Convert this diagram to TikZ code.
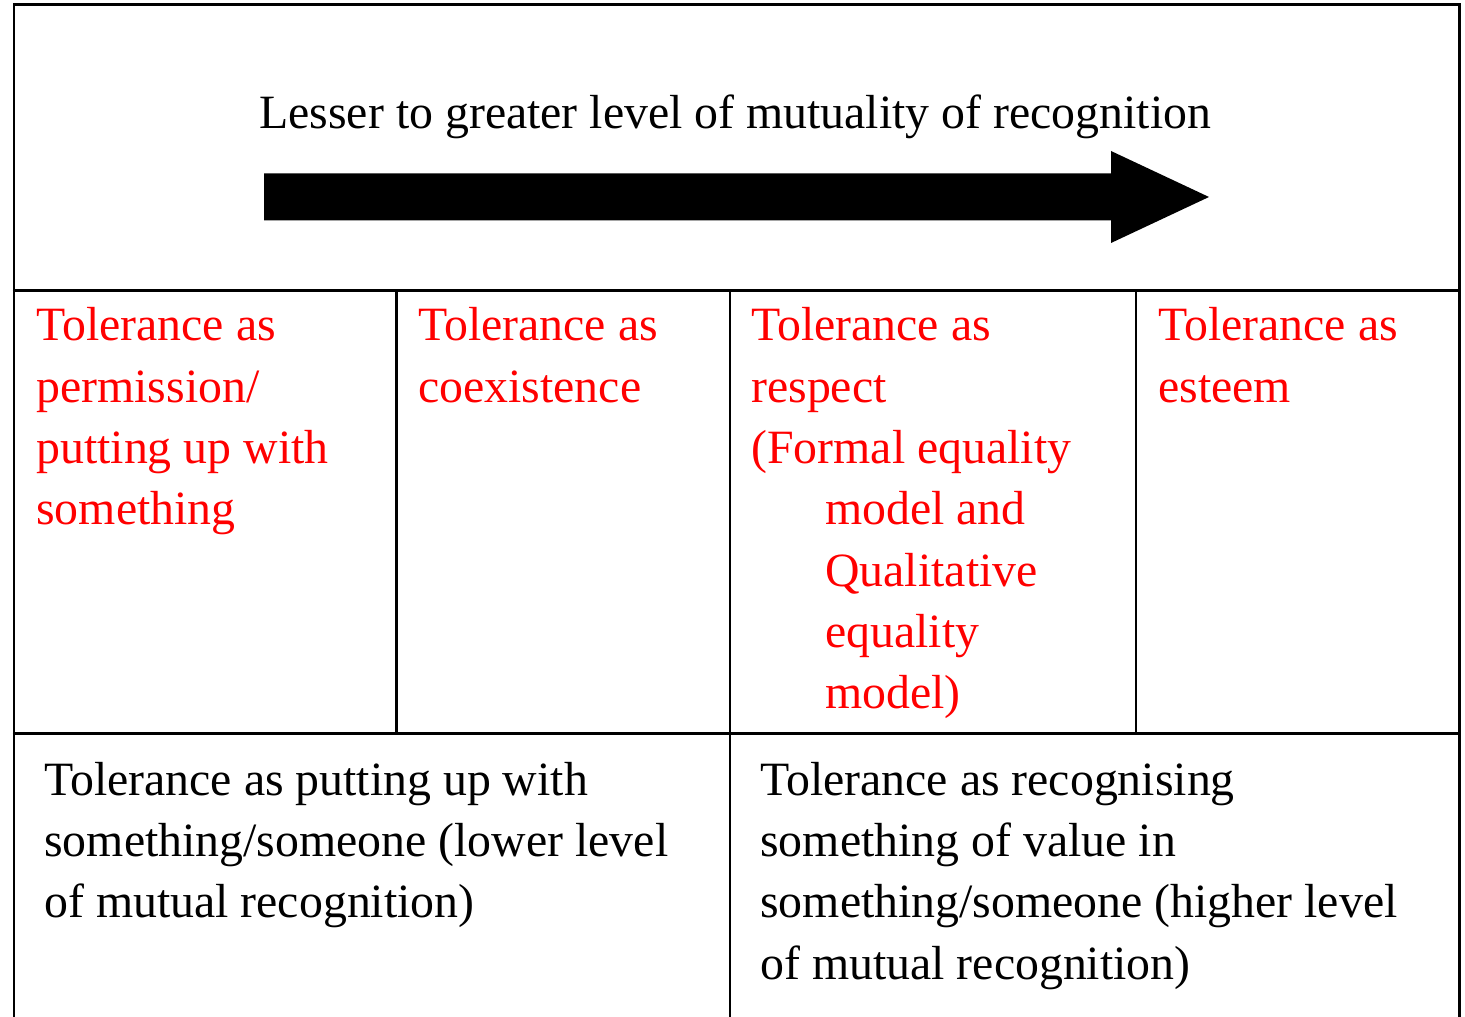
\documentclass[tikz,border=0pt]{standalone}
\usepackage{fontspec}
\setmainfont{Liberation Serif}
\usepackage{xcolor}
\usepackage{tkz-euclide}
\usetikzlibrary{calc}

\newcommand{\respindent}{\hspace*{1.48cm}}
\tikzset{
    celltext/.style={anchor=north west, inner sep=0pt, align=left,
        font=\fontsize{27.2}{34.9}\selectfont},
    redtext/.style={celltext, text=red}
}

\begin{document}
\begin{tikzpicture}
        \useasboundingbox (0,0) rectangle (29.3,20.32);

        \tkzDefPoint(0.28,20.22){T_0}
        \tkzDefPoint(29.18,20.22){T_1}

        \tkzDefPoint(0.28,14.51){M_0}
        \tkzDefPoint(7.93,14.51){M_1}
        \tkzDefPoint(14.60,14.51){M_2}
        \tkzDefPoint(22.72,14.51){M_3}
        \tkzDefPoint(29.18,14.51){M_4}

        \tkzDefPoint(0.28,5.65){N_0}
        \tkzDefPoint(7.93,5.65){N_1}
        \tkzDefPoint(14.60,5.65){N_2}
        \tkzDefPoint(22.72,5.65){N_3}
        \tkzDefPoint(29.18,5.65){N_4}

        \tkzDefPoint(0.28,-0.2){B_0}
        \tkzDefPoint(14.60,-0.2){B_2}
        \tkzDefPoint(29.18,-0.2){B_4}

        % outer frame and grid
        \tkzDrawSegments[line width=1.7pt, line cap=rect](T_0,T_1 T_0,B_0 T_1,B_4)
        \tkzDrawSegments[line width=1.3pt](M_0,M_4 N_0,N_4 M_1,N_1 M_2,B_2 M_3,N_3)

        % block arrow
        \tkzDefPoint(5.28,16.85){A_0}
        \tkzDefPoint(22.22,16.85){A_1}
        \tkzDefPoint(22.22,17.30){A_2}
        \tkzDefPoint(24.18,16.38){A_3}
        \tkzDefPoint(22.22,15.46){A_4}
        \tkzDefPoint(22.22,15.91){A_5}
        \tkzDefPoint(5.28,15.91){A_6}
        \fill[black] (A_0) -- (A_1) -- (A_2) -- (A_3) -- (A_4) -- (A_5) -- (A_6) -- cycle;

        \tkzDefPoint(5.18,17.75){H_0}
        \node[celltext, anchor=base west] (title) at (H_0)
            {Lesser to greater level of mutuality of recognition};

        \tkzDefPoint(0.72,14.37){L_1}
        \tkzDefPoint(8.36,14.37){L_2}
        \tkzDefPoint(15.02,14.37){L_3}
        \tkzDefPoint(23.16,14.37){L_4}

        \node[redtext] (permission) at (L_1)
            {\strut Tolerance as\\permission/\\putting up with\\something};
        \node[redtext] (coexistence) at (L_2)
            {\strut Tolerance as\\coexistence};
        \node[redtext] (respect) at (L_3)
            {\strut Tolerance as\\respect\\(Formal equality\\\respindent model and\\\respindent Qualitative\\\respindent equality\\\respindent model)};
        \node[redtext] (esteem) at (L_4)
            {\strut Tolerance as\\esteem};

        \tkzDefPoint(0.88,5.28){K_1}
        \tkzDefPoint(15.20,5.28){K_2}

        \node[celltext] (lower) at (K_1)
            {\strut Tolerance as putting up with\\something/someone (lower level\\of mutual recognition)};
        \node[celltext] (higher) at (K_2)
            {\strut Tolerance as recognising\\something of value in\\something/someone (higher level\\of mutual recognition)};
    \end{tikzpicture}
\end{document}
